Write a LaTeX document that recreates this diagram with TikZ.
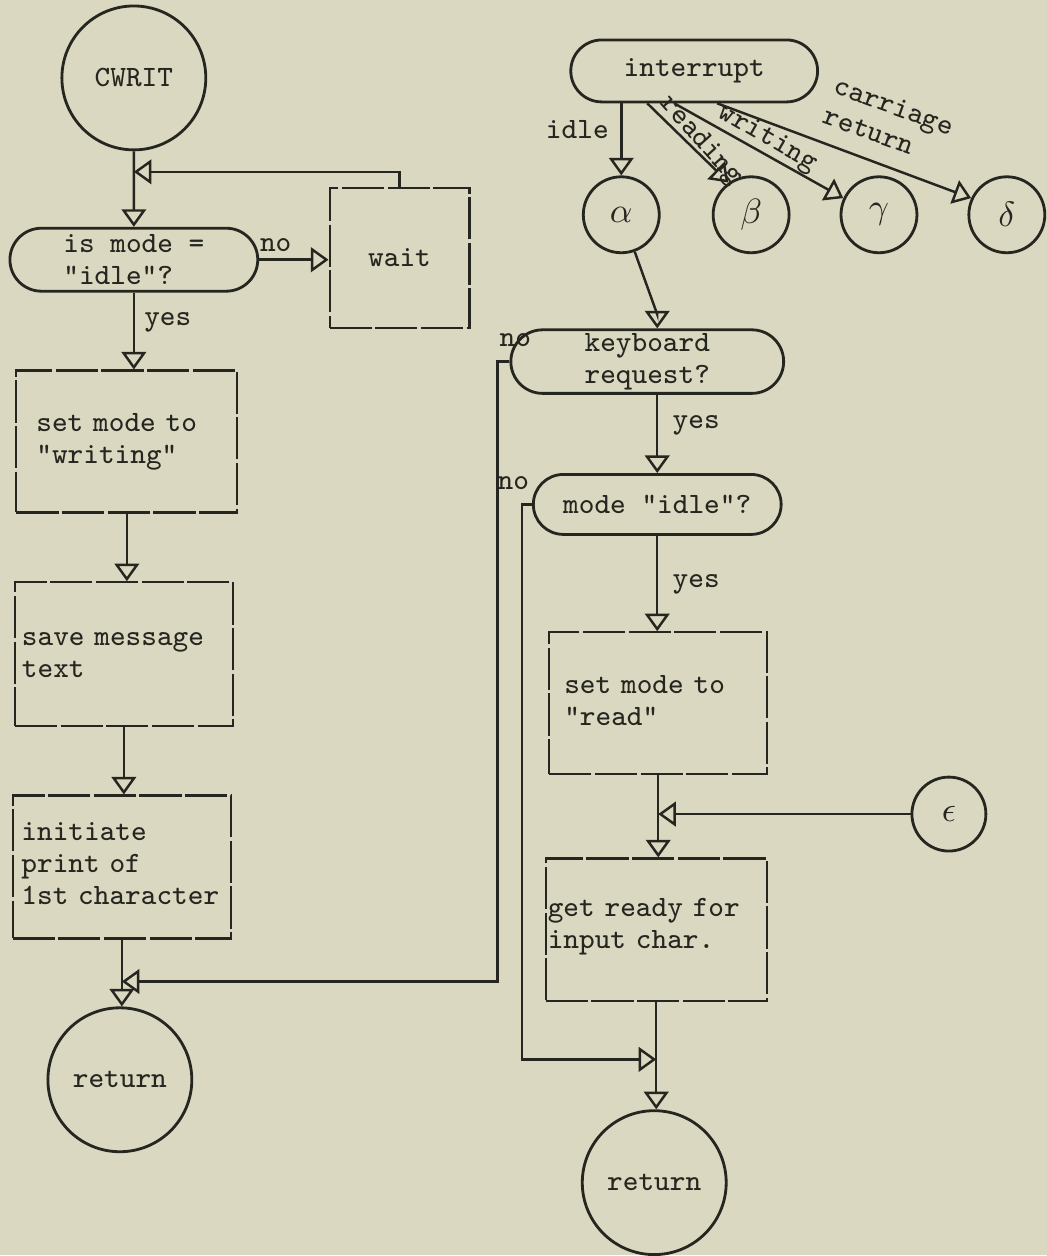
\documentclass[tikz,border=0pt]{standalone}
\usepackage{xcolor}
\definecolor{paper}{RGB}{218,216,192}
\definecolor{ink}{RGB}{38,38,32}
\usetikzlibrary{arrows.meta,positioning,shapes.misc,calc}

\begin{document}
\begin{tikzpicture}[x=0.01cm,y=-0.01cm,
  every node/.style={font=\fontsize{8.4}{9.1}\selectfont\ttfamily,text=ink},
  term/.style={circle,draw=ink,line width=0.8pt,inner sep=0pt},
  decide/.style={rounded rectangle,draw=ink,line width=0.8pt,inner sep=1pt,align=left},
  proc/.style={rectangle,draw=ink,line width=0.6pt,dash pattern=on 12pt off 1pt,inner ysep=0pt,align=left},
  greek/.style={font=\fontsize{10}{12}\selectfont},
  conn/.style={draw=ink,line width=0.7pt,-{Triangle[open,length=5pt,width=7pt]}},
  lbl/.style={inner sep=1pt}]
  \fill[paper] (0,0) rectangle (1048,1256);

  % left column: CWRIT
  \node[term,minimum size=1.44cm] (cwrit) at (134,78) {CWRIT};
  \node[decide,minimum width=2.55cm,minimum height=0.63cm] (test) at (134,260) {is mode =\\"idle"?};
  \node[proc,minimum width=1.40cm,minimum height=1.40cm] (wait) at (400,258) {wait};
  \node[proc,inner xsep=5.7pt,text width=1.81cm,text height=17.4pt,text depth=23.0pt] (setw) at (127,442) {set mode to\\"writing"};
  \node[proc,inner xsep=2pt,text width=2.04cm,text height=17.9pt,text depth=23.1pt] (save) at (124,655) {save message\\text};
  \node[proc,inner xsep=2.5pt,text width=2.01cm,text height=12.8pt,text depth=27.9pt] (init) at (122,868) {initiate\\print of\\1st character};
  \node[term,minimum size=1.44cm] (ret1) at (120,1081) {return};

  % right column: interrupt
  \node[decide,minimum width=2.54cm,minimum height=0.62cm] (intr) at (695,71) {interrupt};
  \node[term,greek,minimum size=0.76cm] (alpha) at (622,215) {$\alpha$};
  \node[term,greek,minimum size=0.76cm] (beta) at (752,215) {$\beta$};
  \node[term,greek,minimum size=0.76cm] (gamma) at (880,215) {$\gamma$};
  \node[term,greek,minimum size=0.76cm] (delta) at (1008,215) {$\delta$};
  \node[decide,minimum width=2.80cm,minimum height=0.60cm,align=center] (kb) at (648,362) {keyboard\\request?};
  \node[decide,minimum width=2.55cm,minimum height=0.60cm] (mi) at (658,505) {mode "idle"?};
  \node[proc,inner xsep=4.3pt,text width=1.88cm,text height=17.4pt,text depth=23.0pt] (setr) at (659,704) {set mode to\\"read"};
  \node[term,greek,minimum size=0.74cm] (eps) at (950,815) {$\epsilon$};
  \node[proc,inner xsep=0.6pt,text width=2.17cm,text height=16.5pt,text depth=24.2pt] (gr) at (657,931) {get ready for\\input char.};
  \node[term,minimum size=1.44cm] (ret2) at (655,1184) {return};

  % labels
  \node[lbl] (lno1) at (276,245) {no};
  \node[lbl] (lyes1) at (168,323) {yes};
  \node[lbl] (lidle) at (578,130) {idle};
  \node[lbl,rotate=-48] (lread) at (701,141) {reading};
  \node[lbl,rotate=-30] (lwrite) at (768,139) {writing};
  \node[lbl,rotate=-20,align=left] (lcr) at (890,121) {carriage\\return};
  \node[lbl] (lno2) at (516,340) {no};
  \node[lbl] (lyes2) at (697,426) {yes};
  \node[lbl] (lno3) at (514,484) {no};
  \node[lbl] (lyes3) at (697,585) {yes};

  % junctions
  \coordinate (fb) at (134,172);
  \coordinate (m1) at ($(init.south)+(0,42)$);
  \coordinate (m2) at ($(gr.south)+(0,57)$);
  \coordinate (m3) at (setr.south |- eps);

  % connectors
  \draw[conn] (cwrit) -- (test);
  \draw[conn] (wait.north) |- (fb);
  \draw[conn] (test.east) -- (test.east -| wait.west);
  \draw[conn] (test.south) -- (test.south |- setw.north);
  \draw[conn] (setw.south) -- (setw.south |- save.north);
  \draw[conn] (save.south) -- (save.south |- init.north);
  \draw[conn] (init.south) -- (init.south |- ret1.north);
  \draw[conn] (kb.west) -- ++(-12,0) |- (m1);

  \draw[conn] (intr.south -| alpha) -- (alpha);
  \draw[conn] ($(intr.south)+(-47,0)$) -- (beta.125);
  \draw[conn] ($(intr.south)+(-20,0)$) -- (gamma.155);
  \draw[conn] ($(intr.south)+(23,0)$) -- (delta.155);
  \draw[conn] (alpha.290) -- ($(kb.north -| mi.north)+(0,-14)$) -- (kb.north -| mi.north);
  \draw[conn] (kb.south -| mi.north) -- (mi.north);
  \draw[conn] (mi.west) -- ++(-10,0) |- (m2);
  \draw[conn] (mi.south) -- (mi.south |- setr.north);
  \draw[conn] (setr.south) -- (setr.south |- gr.north);
  \draw[conn] (eps) -- (m3);
  \draw[conn] (gr.south) -- (gr.south |- ret2.north);
\end{tikzpicture}
\end{document}
